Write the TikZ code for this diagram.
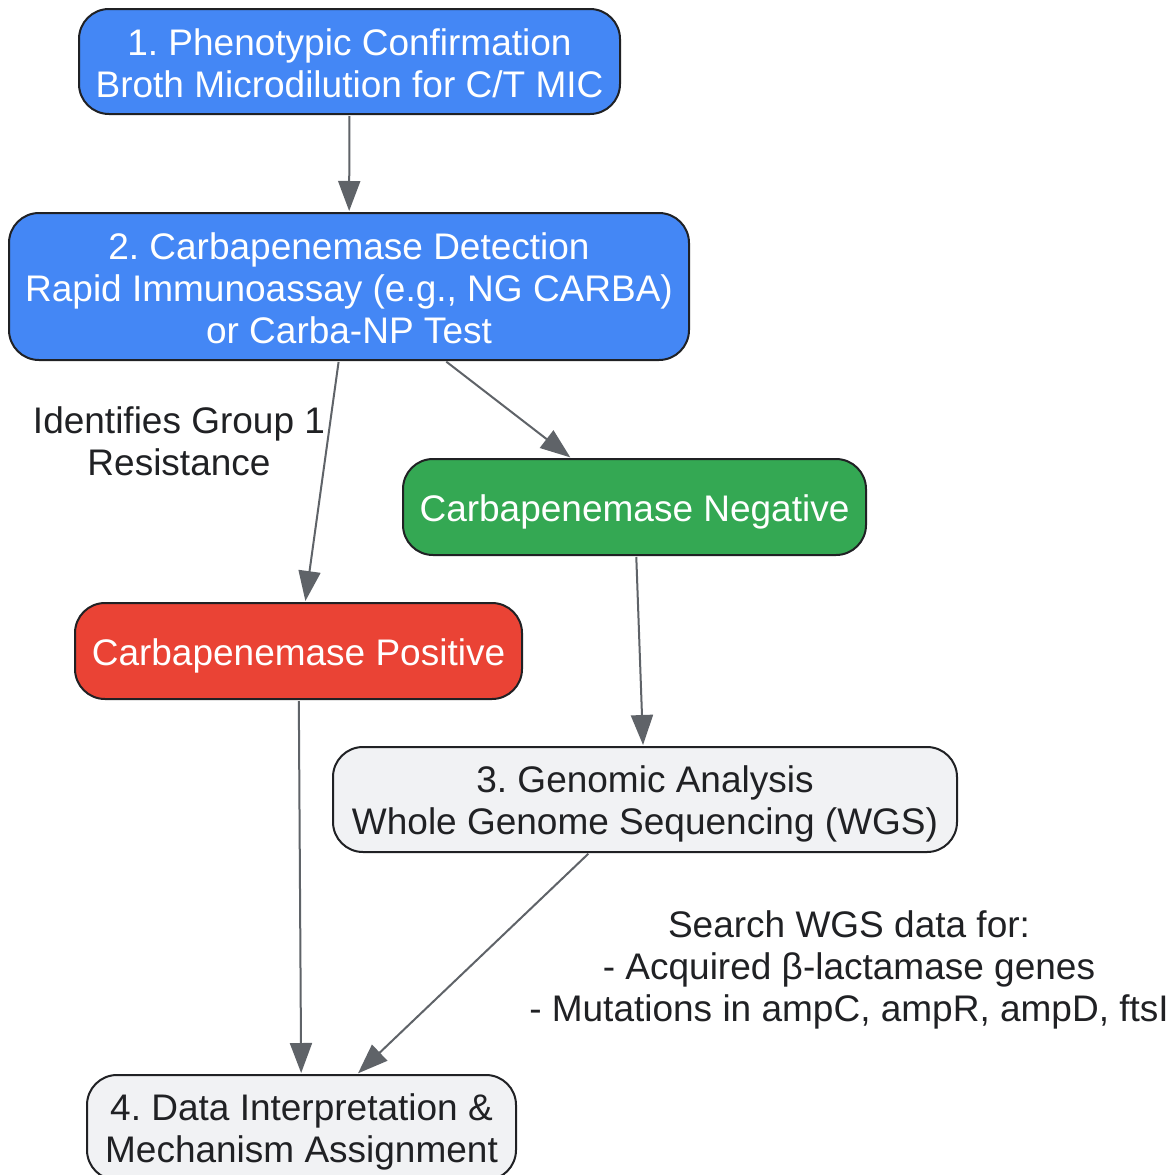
\documentclass[tikz,border=0pt]{standalone}
\usepackage{fontspec}
\setmainfont{Liberation Sans}
\usetikzlibrary{arrows.meta,shapes}
\definecolor{stepblue}{HTML}{4487F5}
\definecolor{stepgreen}{HTML}{34A853}
\definecolor{stepred}{HTML}{EA4335}
\definecolor{stepgray}{HTML}{F1F2F4}
\definecolor{edgegray}{HTML}{5F6368}
\definecolor{inkdark}{HTML}{202124}
\frenchspacing
\begin{document}
\begin{tikzpicture}[x=1pt,y=-1pt,
  every node/.style={font=\fontsize{37}{42}\selectfont,align=center,inner sep=0pt},
  stepbox/.style={draw=inkdark,line width=2pt,rounded corners=30pt},
  link/.style={draw=edgegray,line width=2pt,-{Triangle[length=30pt,width=22pt]},shorten >=1pt,shorten <=1pt}]
\useasboundingbox (0,0) rectangle (1174,1175);
\fill[white] (0,0) rectangle (1174,1175);
% boxes
\node[stepbox,fill=stepblue,text=white,minimum width=541pt,minimum height=105pt,text height=73pt] (box1) at (349.5,61.5)
  {1. Phenotypic Confirmation\\Broth Microdilution for C/T MIC};
\node[stepbox,fill=stepblue,text=white,minimum width=680pt,minimum height=147pt,text height=114pt] (box2) at (349,286.5)
  {2. Carbapenemase Detection\\Rapid Immunoassay (e.g., NG CARBA)\\or Carba-NP Test};
\node[stepbox,fill=stepgreen,text=white,minimum width=463pt,minimum height=96pt,text height=37pt,text depth=8pt] (neg) at (634.5,507)
  {Carbapenemase Negative};
\node[stepbox,fill=stepred,text=white,minimum width=447pt,minimum height=96pt,text height=37pt,text depth=8pt] (pos) at (298.5,651)
  {Carbapenemase Positive};
\node[stepbox,fill=stepgray,text=inkdark,minimum width=624pt,minimum height=105pt,text height=77pt] (box3) at (645,799.5)
  {3. Genomic Analysis\\Whole Genome Sequencing (WGS)};
\node[stepbox,fill=stepgray,text=inkdark,minimum width=429pt,minimum height=105pt,text height=77pt] (box4) at (301.5,1127.5)
  {4. Data Interpretation \&\\Mechanism Assignment};
% labels
\node[text=inkdark] (lblpos) at (179,441) {Identifies Group 1\\Resistance};
\node[text=inkdark] (lblwgs) at (849,970) {Search WGS data for:\\- Acquired β-lactamase genes\\- Mutations in ampC, ampR, ampD, ftsI};
% connectors
\draw[link] (box1) -- (box2);
\draw[link] (box2) -- (pos);
\draw[link] (box2) -- (neg);
\draw[link] (neg) -- (box3);
\draw[link] (pos) -- (box4);
\draw[link] (box3) -- (box4);
\end{tikzpicture}
\end{document}
